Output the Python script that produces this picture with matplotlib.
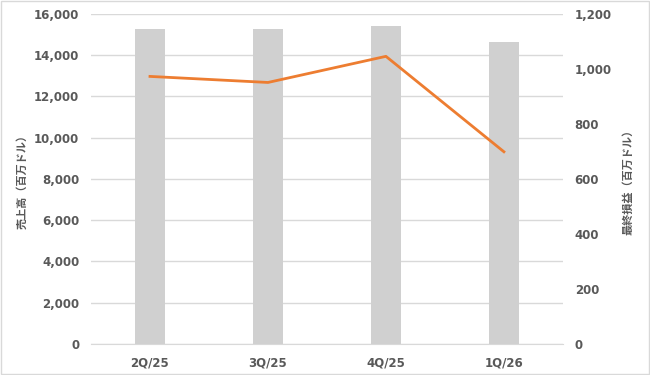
import numpy as np
import matplotlib.pyplot as plt
from matplotlib.patches import Rectangle

# data
quarters = ['2Q/25', '3Q/25', '4Q/25', '1Q/26']
revenue = [15250, 15250, 15400, 14640]      # 売上高 (百万ドル)
net_income = [973, 951, 1046, 699]          # 最終損益 (百万ドル)

grey_text = '#595959'
jp_font = ['Noto Sans CJK JP', 'DejaVu Sans']

fig = plt.figure(figsize=(6.5, 3.75), dpi=100)
ax = fig.add_axes([0.14, 0.0827, 0.726, 0.88])
ax2 = ax.twinx()

x = np.arange(len(quarters))
ax.bar(x, revenue, width=0.26, color='#D0D0D0', zorder=2)
ax.set_ylim(0, 16000)
ax.set_yticks(np.arange(0, 16001, 2000))
ax.set_yticklabels([f'{v:,}' for v in range(0, 16001, 2000)])
ax.set_xlim(-0.5, len(quarters) - 0.5)
ax.set_xticks(x)
ax.set_xticklabels(quarters)
ax.grid(axis='y', color='#D9D9D9', linewidth=1, zorder=0)
ax.set_axisbelow(True)

ax2.plot(x, net_income, color='#ED7D31', linewidth=2, zorder=3)
ax2.set_ylim(0, 1200)
ax2.set_yticks(np.arange(0, 1201, 200))
ax2.set_yticklabels([f'{v:,}' for v in range(0, 1201, 200)])

for a in (ax, ax2):
    for s in a.spines.values():
        s.set_visible(False)
    a.tick_params(length=0, colors=grey_text, labelsize=8.5)
    for lbl in a.get_xticklabels() + a.get_yticklabels():
        lbl.set_fontweight('bold')
ax.spines['bottom'].set_visible(True)
ax.spines['bottom'].set_color('#D9D9D9')
ax.tick_params(axis='y', pad=8.5)
ax.tick_params(axis='x', pad=9)
ax2.tick_params(axis='y', pad=8.5)

ax.set_ylabel('売上高（百万ドル）', family=jp_font, fontsize=8, fontweight='bold', color=grey_text)
ax2.set_ylabel('最終損益（百万ドル）', family=jp_font, fontsize=8, fontweight='bold', color=grey_text)
ax.yaxis.set_label_coords(-0.133, 0.5)
ax2.yaxis.set_label_coords(1.125, 0.5)

# light frame around the whole figure
fig.patches.append(Rectangle((0.002, 0.003), 0.996, 0.994, transform=fig.transFigure,
                             fill=False, edgecolor='#D9D9D9', linewidth=1))

fig.savefig('out.png', dpi=100)
